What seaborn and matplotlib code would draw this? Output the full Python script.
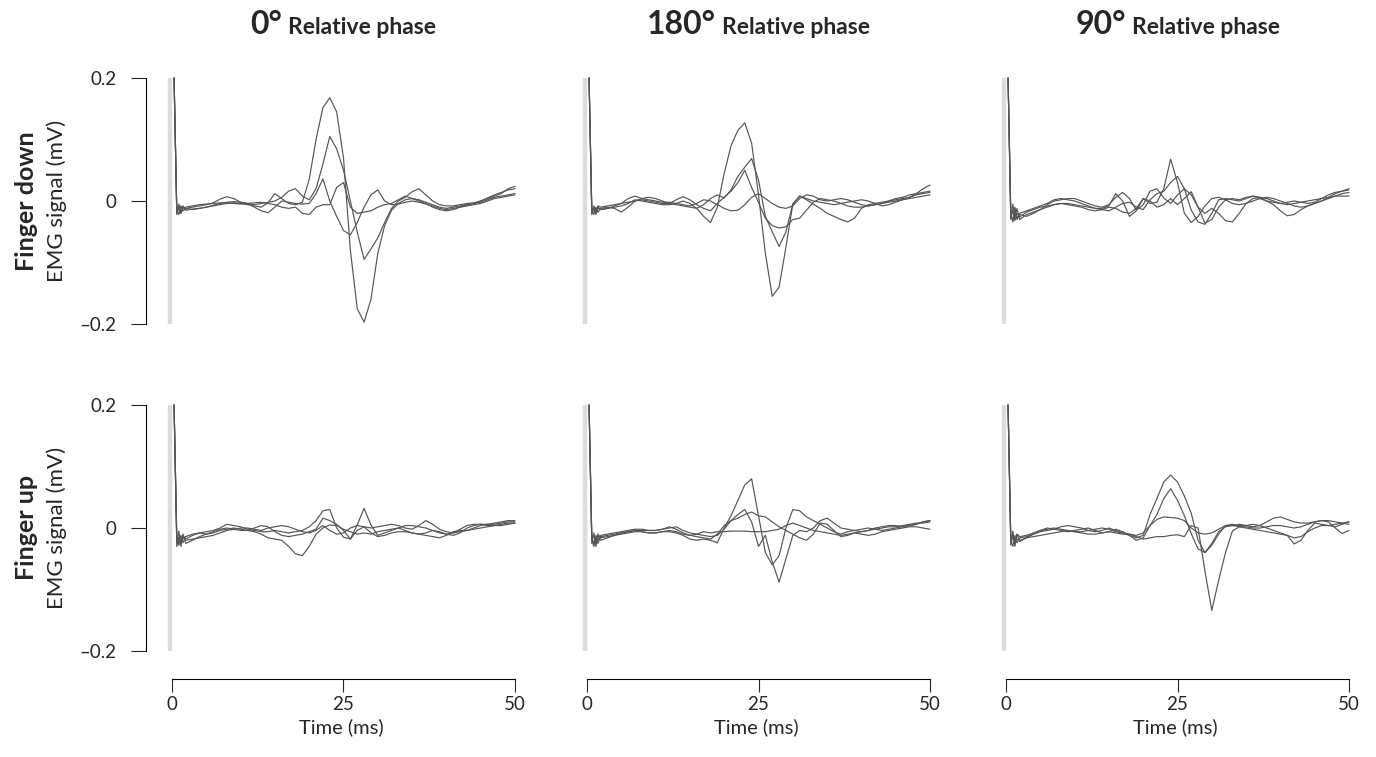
import numpy as np
import pandas as pd
import matplotlib.pyplot as plt
import seaborn as sns

# EMG traces, 4 trials per condition
time_ms = [0.3, 0.7, 1.0, 1.3, 1.6] + list(range(2, 51))
stim_ms = -0.3

phases = ['0°', '180°', '90°']
rows = ['Finger down', 'Finger up']

# finger down, 0 deg
down0_a = [0.2, -0.02, -0.005, -0.02, -0.008,
           -0.015, -0.013, -0.012, -0.01, -0.008, -0.006, -0.004, -0.003,
           -0.004, -0.006, -0.008, -0.01, -0.003, 0.012, 0.004, -0.004, -0.006, -0.002,
           0.035, 0.1, 0.152, 0.168, 0.145, 0.07, -0.08, -0.175, -0.197, -0.16,
           -0.085, -0.04, -0.015, -0.004, 0.002, 0.004, 0.002, -0.002, -0.006, -0.01,
           -0.012, -0.01, -0.008, -0.006, -0.004, 0.0, 0.005, 0.01, 0.014, 0.018, 0.02]
down0_b = [0.2, -0.015, -0.022, -0.008, -0.016,
           -0.012, -0.01, -0.008, -0.006, -0.003, 0.003, 0.007, 0.004,
           -0.002, -0.004, -0.006, -0.004, -0.002, 0.0, 0.006, 0.016, 0.02, 0.008,
           0.002, 0.02, 0.06, 0.105, 0.085, 0.05, 0.0, -0.05, -0.095, -0.078,
           -0.06, -0.035, -0.012, 0.0, 0.006, 0.015, 0.02, 0.01, 0.0, -0.006,
           -0.008, -0.008, -0.006, -0.004, -0.003, 0.0, 0.004, 0.008, 0.012, 0.02, 0.024]
down0_c = [0.2, -0.022, -0.01, -0.018, -0.01,
           -0.012, -0.014, -0.012, -0.01, -0.007, -0.004, -0.002, -0.001,
           -0.002, -0.004, -0.01, -0.016, -0.019, -0.01, 0.0, -0.002, -0.004, -0.005,
           -0.004, 0.012, 0.036, 0.0, -0.025, -0.048, -0.055, -0.035, -0.01, 0.01,
           0.018, 0.0, -0.006, -0.005, -0.002, 0.0, -0.002, -0.005, -0.008, -0.012,
           -0.014, -0.012, -0.01, -0.008, -0.006, -0.004, 0.0, 0.004, 0.006, 0.008, 0.01]
down0_d = [0.2, -0.018, -0.012, -0.02, -0.012,
           -0.01, -0.008, -0.006, -0.005, -0.004, -0.003, -0.003, -0.004,
           -0.005, -0.004, -0.003, -0.002, -0.004, -0.006, -0.01, -0.012, -0.01, -0.02,
           -0.022, -0.01, -0.006, -0.006, 0.022, 0.03, -0.01, -0.02, -0.018, -0.016,
           -0.01, -0.006, -0.004, 0.002, 0.008, 0.004, 0.0, -0.004, -0.01, -0.014,
           -0.016, -0.014, -0.01, -0.006, -0.004, -0.002, 0.002, 0.006, 0.008, 0.01, 0.012]

# finger down, 180 deg
down180_a = [0.2, -0.02, -0.008, -0.022, -0.01,
             -0.014, -0.012, -0.01, -0.008, -0.004, 0.002, 0.0, -0.002,
             -0.004, -0.006, -0.006, -0.004, 0.0, -0.004, -0.012, -0.025, -0.035, -0.01,
             0.045, 0.09, 0.115, 0.127, 0.094, 0.01, -0.085, -0.155, -0.14, -0.075,
             -0.005, 0.008, 0.002, -0.005, -0.012, -0.02, -0.025, -0.03, -0.034, -0.028,
             -0.012, -0.006, -0.004, -0.002, 0.0, 0.002, 0.004, 0.006, 0.01, 0.012, 0.014]
down180_b = [0.2, -0.015, -0.022, -0.01, -0.018,
             -0.012, -0.01, -0.012, -0.018, -0.01, 0.0, 0.004, 0.006,
             0.004, 0.0, -0.004, -0.006, -0.008, -0.01, -0.012, -0.006, 0.004, 0.01,
             0.005, 0.018, 0.04, 0.055, 0.069, 0.034, -0.025, -0.05, -0.074, -0.05,
             -0.005, 0.008, 0.004, 0.0, -0.002, -0.004, -0.006, -0.004, -0.002, 0.0,
             0.002, 0.0, -0.004, -0.008, -0.006, -0.002, 0.002, 0.006, 0.012, 0.02, 0.026]
down180_c = [0.2, -0.022, -0.012, -0.018, -0.008,
             -0.01, -0.008, -0.006, -0.004, -0.002, 0.0, 0.002, 0.0,
             -0.002, -0.004, -0.004, 0.002, 0.007, 0.002, -0.006, -0.012, -0.016, -0.004,
             0.006, 0.016, 0.03, 0.05, 0.022, -0.002, -0.028, -0.04, -0.044, -0.042,
             -0.03, -0.028, -0.015, -0.002, 0.004, 0.002, 0.0, -0.004, -0.008, -0.01,
             -0.01, -0.008, -0.006, -0.004, -0.002, 0.0, 0.002, 0.004, 0.006, 0.008, 0.01]
down180_d = [0.2, -0.018, -0.01, -0.02, -0.012,
             -0.014, -0.012, -0.008, -0.004, 0.004, 0.008, 0.004, 0.002,
             0.0, -0.002, -0.002, -0.004, -0.006, -0.008, -0.004, 0.002, 0.0, -0.006,
             -0.012, -0.016, -0.015, -0.006, 0.006, 0.012, 0.004, -0.004, -0.01, -0.012,
             -0.008, 0.004, 0.01, 0.008, 0.002, 0.0, 0.002, 0.004, 0.002, -0.002,
             -0.006, -0.008, -0.006, -0.004, 0.0, 0.004, 0.006, 0.01, 0.012, 0.014, 0.016]

# finger down, 90 deg
down90_a = [0.2, -0.03, -0.005, -0.028, -0.012,
            -0.03, -0.022, -0.018, -0.014, -0.01, -0.006, -0.004, -0.004,
            -0.006, -0.008, -0.01, -0.012, -0.012, -0.008, 0.012, 0.0, -0.025, -0.016,
            0.004, -0.004, -0.002, 0.02, 0.068, 0.03, -0.02, -0.035, -0.025, -0.008,
            0.004, 0.006, 0.002, -0.004, -0.006, -0.004, 0.0, 0.004, 0.006, 0.004,
            0.0, -0.004, -0.008, -0.01, -0.008, -0.004, 0.0, 0.006, 0.012, 0.016, 0.02]
down90_b = [0.2, -0.025, -0.032, -0.01, -0.028,
            -0.02, -0.016, -0.012, -0.008, -0.004, 0.002, 0.004, 0.002,
            0.0, -0.004, -0.008, -0.012, -0.014, -0.016, -0.01, -0.004, -0.002, -0.01,
            -0.014, 0.002, 0.012, 0.016, 0.03, 0.04, 0.02, -0.015, -0.034, -0.038,
            -0.02, 0.002, 0.004, 0.002, 0.0, 0.004, 0.008, 0.006, 0.0, -0.006,
            -0.016, -0.024, -0.022, -0.014, -0.008, -0.004, 0.0, 0.004, 0.008, 0.012, 0.014]
down90_c = [0.2, -0.02, -0.034, -0.015, -0.03,
            -0.022, -0.025, -0.02, -0.014, -0.006, 0.0, 0.002, 0.004,
            0.004, 0.0, -0.004, -0.008, -0.01, -0.006, 0.006, 0.014, 0.004, -0.015,
            -0.006, 0.016, 0.02, 0.005, -0.004, 0.01, 0.02, 0.01, -0.01, -0.02,
            -0.012, -0.02, -0.032, -0.034, -0.02, -0.004, 0.004, 0.006, 0.004, 0.0,
            -0.004, -0.006, -0.004, -0.002, 0.0, 0.002, 0.004, 0.006, 0.008, 0.008, 0.008]
down90_d = [0.2, -0.028, -0.015, -0.032, -0.02,
            -0.026, -0.018, -0.014, -0.01, -0.008, -0.006, -0.004, -0.006,
            -0.008, -0.01, -0.014, -0.016, -0.014, -0.01, -0.012, -0.018, -0.02, -0.012,
            0.004, 0.0, -0.01, -0.006, 0.004, -0.006, 0.004, 0.015, -0.01, -0.036,
            -0.03, -0.01, 0.002, 0.004, 0.002, 0.006, 0.008, 0.004, 0.0, -0.002,
            -0.004, -0.002, 0.0, -0.002, -0.004, -0.002, 0.004, 0.01, 0.014, 0.016, 0.018]

# finger up, 0 deg
up0_a = [0.2, -0.025, -0.005, -0.03, -0.01,
         -0.025, -0.02, -0.014, -0.01, -0.006, -0.002, 0.0, -0.002,
         -0.004, -0.004, -0.006, -0.01, -0.016, -0.018, -0.02, -0.03, -0.042, -0.045,
         -0.03, -0.01, 0.0, 0.005, 0.004, -0.002, -0.006, -0.01, -0.008, -0.01,
         -0.006, -0.004, -0.002, 0.0, -0.004, -0.008, -0.01, -0.008, -0.004, -0.006,
         -0.01, -0.012, -0.008, 0.0, 0.004, 0.006, 0.006, 0.006, 0.008, 0.01, 0.01]
up0_b = [0.2, -0.03, -0.015, -0.025, -0.012,
         -0.018, -0.012, -0.008, -0.006, -0.004, 0.0, 0.006, 0.004,
         0.002, -0.002, -0.004, -0.006, -0.006, -0.004, -0.006, -0.008, -0.006, -0.004,
         0.002, 0.012, 0.028, 0.03, 0.0, -0.015, -0.018, -0.004, 0.002, 0.0,
         0.002, 0.004, 0.006, 0.004, 0.0, -0.002, 0.004, 0.012, 0.006, -0.002,
         -0.006, -0.008, -0.006, -0.004, 0.0, 0.004, 0.006, 0.008, 0.01, 0.012, 0.012]
up0_c = [0.2, -0.02, -0.028, -0.012, -0.024,
         -0.014, -0.01, -0.008, -0.01, -0.008, -0.004, -0.002, 0.0,
         -0.002, -0.004, 0.0, 0.004, 0.002, -0.006, -0.012, -0.014, -0.012, -0.01,
         -0.006, -0.002, 0.016, 0.012, 0.006, -0.004, -0.018, 0.005, 0.032, 0.005,
         -0.012, -0.008, -0.004, 0.0, 0.004, 0.004, 0.002, 0.0, -0.004, -0.008,
         -0.01, -0.008, -0.002, 0.004, 0.006, 0.006, 0.004, 0.004, 0.006, 0.008, 0.008]
up0_d = [0.2, -0.015, -0.025, -0.02, -0.016,
         -0.02, -0.018, -0.016, -0.014, -0.012, -0.008, -0.004, -0.002,
         0.0, 0.0, -0.002, -0.004, 0.0, 0.002, 0.004, 0.002, -0.002, -0.006,
         -0.008, -0.004, 0.004, -0.004, -0.01, -0.008, 0.0, 0.004, 0.002, -0.008,
         -0.014, -0.012, -0.008, -0.006, -0.006, -0.008, -0.01, -0.012, -0.014, -0.016,
         -0.012, -0.006, -0.004, -0.004, -0.002, 0.0, 0.002, 0.004, 0.004, 0.006, 0.008]

# finger up, 180 deg
up180_a = [0.2, -0.025, -0.008, -0.03, -0.012,
           -0.02, -0.016, -0.012, -0.01, -0.008, -0.006, -0.006, -0.008,
           -0.008, -0.006, -0.006, -0.008, -0.012, -0.018, -0.02, -0.018, -0.02, -0.024,
           0.0, 0.02, 0.045, 0.07, 0.08, 0.02, -0.04, -0.06, -0.045, 0.0,
           0.03, 0.028, 0.018, 0.012, 0.006, 0.0, -0.006, -0.01, -0.006, -0.004,
           -0.002, 0.0, -0.002, -0.004, -0.002, 0.0, 0.002, 0.004, 0.006, 0.01, 0.012]
up180_b = [0.2, -0.02, -0.03, -0.012, -0.025,
           -0.014, -0.012, -0.01, -0.008, -0.006, -0.004, -0.004, -0.004,
           -0.004, -0.002, 0.0, 0.002, -0.004, -0.008, -0.01, -0.012, -0.014, -0.012,
           -0.002, 0.012, 0.022, 0.03, 0.01, -0.03, -0.012, -0.055, -0.088, -0.05,
           -0.012, -0.004, -0.006, 0.0, 0.012, 0.016, 0.008, 0.0, -0.002, -0.004,
           -0.006, -0.004, -0.002, 0.0, 0.002, 0.002, 0.004, 0.006, 0.008, 0.008, 0.01]
up180_c = [0.2, -0.018, -0.012, -0.024, -0.01,
           -0.016, -0.014, -0.012, -0.008, -0.006, -0.004, -0.006, -0.008,
           -0.008, -0.006, -0.004, -0.006, -0.01, -0.012, -0.014, -0.016, -0.018, -0.01,
           0.004, 0.012, 0.016, 0.022, 0.026, 0.02, 0.018, 0.01, 0.002, -0.004,
           -0.01, -0.016, -0.02, -0.01, 0.008, 0.006, -0.004, -0.014, -0.012, -0.008,
           -0.006, -0.004, 0.0, 0.002, 0.004, 0.004, 0.002, 0.004, 0.006, 0.01, 0.012]
up180_d = [0.2, -0.015, -0.025, -0.018, -0.02,
           -0.012, -0.01, -0.008, -0.006, -0.004, -0.002, -0.002, -0.004,
           -0.004, -0.002, 0.002, -0.002, -0.008, -0.012, -0.01, -0.006, -0.008, -0.006,
           -0.006, -0.005, -0.005, -0.005, -0.006, -0.006, -0.006, -0.004, -0.002, 0.004,
           0.008, 0.004, 0.0, -0.004, -0.006, -0.008, -0.01, -0.012, -0.01, -0.008,
           -0.01, -0.012, -0.01, -0.006, -0.004, -0.002, 0.0, 0.002, 0.002, 0.0, -0.002]

# finger up, 90 deg
up90_a = [0.2, -0.025, -0.005, -0.03, -0.01,
          -0.022, -0.016, -0.01, -0.006, -0.004, -0.002, -0.004, -0.006,
          -0.004, -0.002, 0.0, -0.004, -0.008, -0.006, -0.002, -0.006, -0.012, -0.016,
          -0.012, 0.022, 0.048, 0.075, 0.086, 0.075, 0.052, 0.024, -0.02, -0.04,
          -0.028, -0.01, 0.004, 0.006, 0.004, 0.004, 0.006, 0.004, 0.0, -0.004,
          -0.008, -0.012, -0.016, -0.014, -0.006, 0.0, 0.004, 0.004, 0.002, 0.006, 0.01]
up90_b = [0.2, -0.02, -0.03, -0.012, -0.024,
          -0.016, -0.014, -0.01, -0.004, 0.0, -0.002, 0.002, 0.004,
          0.002, 0.0, -0.004, -0.006, -0.004, 0.0, -0.004, -0.008, -0.012, -0.02,
          -0.016, 0.004, 0.022, 0.048, 0.064, 0.045, 0.02, -0.009, -0.034, -0.04,
          -0.025, -0.006, 0.002, 0.004, 0.006, 0.004, 0.002, 0.004, 0.01, 0.016,
          0.018, 0.014, 0.01, 0.008, 0.008, 0.01, 0.012, 0.012, 0.01, 0.008, 0.006]
up90_c = [0.2, -0.018, -0.012, -0.024, -0.01,
          -0.014, -0.012, -0.008, -0.004, -0.002, 0.0, -0.002, -0.004,
          -0.006, -0.006, -0.004, -0.002, 0.0, -0.002, -0.006, -0.008, -0.01, -0.012,
          -0.008, 0.004, 0.014, 0.018, 0.017, 0.016, 0.012, 0.0, -0.008, -0.01,
          -0.008, -0.002, 0.004, 0.004, 0.002, 0.0, -0.002, -0.004, -0.006, -0.008,
          -0.01, -0.012, -0.026, -0.02, -0.004, 0.008, 0.006, 0.004, 0.006, 0.008, 0.01]
up90_d = [0.2, -0.028, -0.012, -0.026, -0.018,
          -0.02, -0.016, -0.014, -0.012, -0.01, -0.008, -0.006, -0.004,
          -0.006, -0.008, -0.01, -0.01, -0.008, -0.006, -0.008, -0.01, -0.01, -0.014,
          -0.018, -0.016, -0.014, -0.014, -0.012, -0.011, -0.014, 0.004, 0.0, -0.07,
          -0.134, -0.085, -0.04, -0.005, 0.002, 0.002, 0.0, 0.0, 0.002, 0.004,
          0.004, 0.002, 0.0, 0.002, 0.006, 0.01, 0.012, 0.01, 0.0, -0.009, -0.004]

panels = [[[down0_a, down0_b, down0_c, down0_d],
           [down180_a, down180_b, down180_c, down180_d],
           [down90_a, down90_b, down90_c, down90_d]],
          [[up0_a, up0_b, up0_c, up0_d],
           [up180_a, up180_b, up180_c, up180_d],
           [up90_a, up90_b, up90_c, up90_d]]]

sns.set_style('white')
plt.rcParams['font.family'] = ['Lato', 'DejaVu Sans']

W, H = 1376, 757
fig = plt.figure(figsize=(W / 100, H / 100), dpi=100)

# pixel layout of the panels
zero_x = [172, 587, 1006]
zero_y = [201, 528]
px_ms = 6.86
px_mv = 615

line_col = '#555555'
tick_fs = 13.5

for r in range(2):
    for c in range(3):
        left = zero_x[c] - 1.0 * px_ms
        width = 51.5 * px_ms
        top = zero_y[r] - 0.21 * px_mv
        height = 0.42 * px_mv
        ax = fig.add_axes([left / W, 1 - (top + height) / H, width / W, height / H])

        frames = []
        for k, vals in enumerate(panels[r][c]):
            assert len(vals) == len(time_ms)
            frames.append(pd.DataFrame({'t': time_ms, 'v': vals, 'trial': k}))
        df = pd.concat(frames, ignore_index=True)

        ax.vlines(stim_ms, -0.2, 0.2, color='#dcdcdc', lw=3.2, zorder=0)
        sns.lineplot(data=df, x='t', y='v', units='trial', estimator=None,
                     color=line_col, lw=0.85, ax=ax, legend=False)

        ax.set_xlim(-1, 50.5)
        ax.set_ylim(-0.21, 0.21)
        for s in ax.spines.values():
            s.set_visible(False)
        ax.set_xlabel('')
        ax.set_ylabel('')

        if c == 0:
            sp = ax.spines['left']
            sp.set_visible(True)
            sp.set_position(('outward', 14))
            sp.set_bounds(-0.2, 0.2)
            sp.set_linewidth(0.8)
            sp.set_color('black')
            ax.set_yticks([-0.2, 0, 0.2])
            ax.set_yticklabels(['\u20130.2', '0', '0.2'])
            ax.tick_params(axis='y', length=11, width=0.8, direction='out',
                           labelsize=tick_fs, pad=10, left=True)
        else:
            ax.set_yticks([])

        if r == 1:
            sp = ax.spines['bottom']
            sp.set_visible(True)
            sp.set_position(('outward', 16))
            sp.set_bounds(0, 50)
            sp.set_linewidth(0.8)
            sp.set_color('black')
            ax.set_xticks([0, 25, 50])
            ax.set_xticklabels(['0', '25', '50'])
            ax.tick_params(axis='x', length=9, width=0.8, direction='out',
                           labelsize=tick_fs, pad=3, bottom=True)
            ax.set_xlabel('Time (ms)', fontsize=14.5, labelpad=4)
        else:
            ax.set_xticks([])

# row labels
for r, name in enumerate(rows):
    yc = 1 - zero_y[r] / H
    fig.text(27 / W, yc, name, rotation=90, ha='center', va='center',
             fontsize=18, fontweight='bold')
    fig.text(57 / W, yc, 'EMG signal (mV)', rotation=90, ha='center', va='center',
             fontsize=16)

# column titles: large degree value + smaller "Relative phase"
fig.canvas.draw()
rend = fig.canvas.get_renderer()
ty = 1 - 34 / H
for c, deg in enumerate(phases):
    cx = zero_x[c] + 25 * px_ms
    t1 = fig.text(0, ty, deg, fontsize=23, fontweight='bold', va='baseline')
    t2 = fig.text(0, ty, 'Relative phase', fontsize=16.5, fontweight='bold', va='baseline')
    w1 = t1.get_window_extent(rend).width
    w2 = t2.get_window_extent(rend).width
    gap = 6
    x0 = cx - (w1 + gap + w2) / 2
    t1.set_x(x0 / W)
    t2.set_x((x0 + w1 + gap) / W)

fig.savefig('out.png', dpi=100)
